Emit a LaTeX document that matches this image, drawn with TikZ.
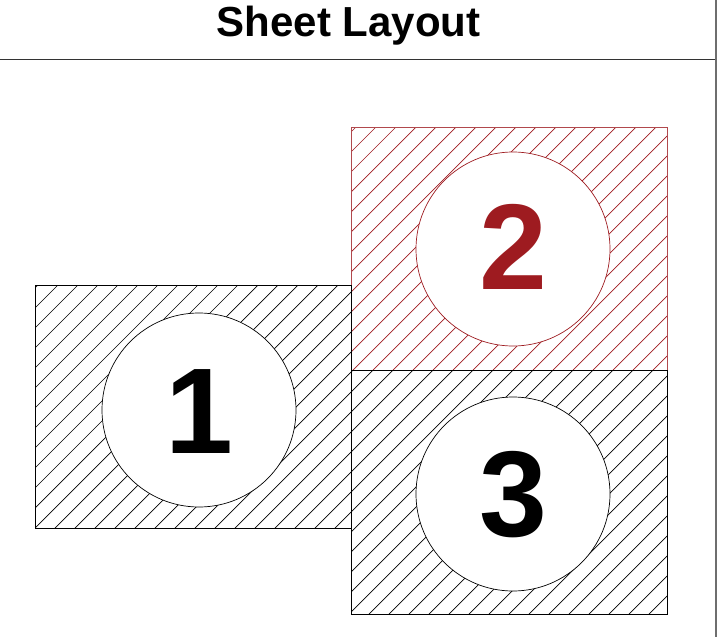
\documentclass[tikz,border=0pt]{standalone}
\usepackage{fontspec}
\setmainfont{Liberation Sans}
\definecolor{sheetred}{RGB}{158,27,32}
\definecolor{framegray}{RGB}{110,110,110}
\begin{document}
\begin{tikzpicture}[x=1pt,y=-1pt,
  sheetbox/.style={draw=black,line width=1pt},
  redbox/.style={draw=sheetred!80,line width=0.9pt},
  hatchline/.style={line width=0.7pt},
  disc/.style={circle,draw=black,fill=white,line width=0.7pt,minimum size=194pt,inner sep=0pt},
  reddisc/.style={disc,draw=sheetred},
  numlabel/.style={anchor=base,inner sep=0pt,font=\fontsize{122}{130}\selectfont\bfseries},
  titlelabel/.style={anchor=base,inner sep=0pt,font=\fontsize{42}{48}\selectfont\bfseries}]
\useasboundingbox (0,0) rectangle (718,637);
% frame
\coordinate (fl) at (0,59);
\coordinate (fr) at (716,59);
\coordinate (ft) at (716,0);
\coordinate (fb) at (716,637);
\draw[line width=1pt,draw=black!80] (fl) -- (fr);
\draw[line width=1.5pt,draw=framegray] (ft) -- (fb);
\node[titlelabel] (title) at (348.5,36) {Sheet Layout};
% sheet 2 (red)
\begin{scope}
  \clip (351,127) rectangle (667,370);
  \foreach \c in {3,23,...,1303} {
    \draw[hatchline,sheetred] (\c-100,100) -- (\c-640,640);
  }
\end{scope}
\draw[redbox] (351,127) rectangle (667,370);
% sheet 1
\begin{scope}
  \clip (35,285) rectangle (351,528);
  \foreach \c in {3,23,...,1303} {
    \draw[hatchline,black] (\c-100,100) -- (\c-640,640);
  }
\end{scope}
\draw[sheetbox] (35,285) rectangle (351,528);
% sheet 3
\begin{scope}
  \clip (351,370) rectangle (667,614);
  \foreach \c in {3,23,...,1303} {
    \draw[hatchline,black] (\c-100,100) -- (\c-640,640);
  }
\end{scope}
\draw[sheetbox] (351,370) rectangle (667,614);
% discs
\node[disc] (c1) at (199,410) {};
\node[reddisc] (c2) at (513,249) {};
\node[disc] (c3) at (513,494) {};
\node[numlabel] (n1) at (199,453) {1};
\node[numlabel,text=sheetred] (n2) at (513,289) {2};
\node[numlabel] (n3) at (513,536) {3};
\end{tikzpicture}
\end{document}
